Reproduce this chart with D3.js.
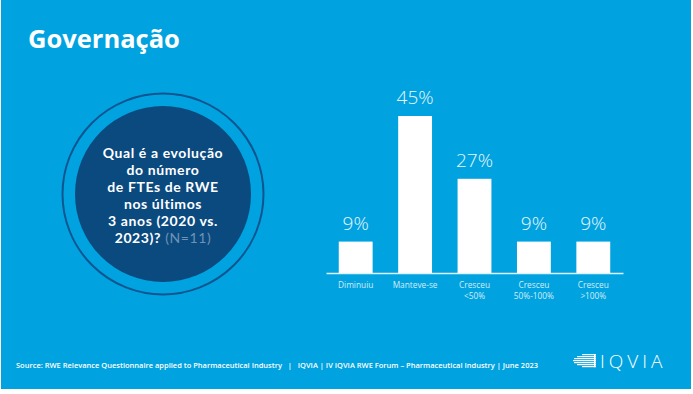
<!DOCTYPE html>
<html>
<head>
<meta charset="utf-8">
<script src="https://cdn.jsdelivr.net/npm/d3@7"></script>
<style>
  html, body { margin: 0; padding: 0; background: #fff; }
  svg { display: block; font-family: "Open Sans", sans-serif; }
</style>
</head>
<body>
<svg id="chart" width="693" height="394"></svg>
<script>
// Data
var categories = ["Diminuiu", "Manteve-se", "Cresceu\n<50%", "Cresceu\n50%-100%", "Cresceu\n>100%"];
var values = [9, 45, 27, 9, 9];
var questionLines = ["Qual é a evolução", "do número", "de FTEs de RWE", "nos últimos", "3 anos (2020 vs.", "2023)?"];
var sampleNote = "(N=11)";
var titleText = "Governação";
var sourceText = "Source: RWE Relevance Questionnaire applied to Pharmaceutical Industry   |   IQVIA | IV IQVIA RWE Forum \u2013 Pharmaceutical Industry | June 2023";

var svg = d3.select("#chart");

//Background panel
svg.append("rect")
	.attr("x", 1).attr("y", 0)
	.attr("width", 690).attr("height", 389)
	.attr("fill", "#00a3e0");

//Title
svg.append("text")
	.attr("x", 28).attr("y", 48)
	.attr("fill", "#fff")
	.attr("font-size", 25.5)
	.attr("font-weight", 700)
	.text(titleText);

//Question circle
var cx = 163, cy = 194;
svg.append("circle")
	.attr("cx", cx).attr("cy", cy).attr("r", 100.5)
	.attr("fill", "none")
	.attr("stroke", "#0d5590")
	.attr("stroke-width", 2);
svg.append("circle")
	.attr("cx", cx).attr("cy", cy).attr("r", 88)
	.attr("fill", "#0b4a7f");

//Question lines (Lato keeps the line boxes tight at this spacing)
var q = svg.append("g")
	.attr("font-family", "Lato, sans-serif")
	.attr("font-size", 14)
	.attr("font-weight", 700)
	.attr("letter-spacing", 0.6)
	.attr("fill", "#fff");
questionLines.forEach(function(line, i) {
	var t = q.append("text")
		.attr("x", cx)
		.attr("y", 158 + i * 16.9)
		.attr("text-anchor", "middle");
	t.append("tspan").text(line);
	if (i == questionLines.length - 1) {
		t.append("tspan")
			.attr("fill", "#6f93b5")
			.attr("font-weight", 400)
			.text(" " + sampleNote);
	}
});

//Bar chart
var x = d3.scaleBand()
	.domain(categories)
	.range([326, 623])
	.paddingInner(0.43)
	.paddingOuter(0.215);

var y = d3.scaleLinear()
	.domain([0, 45])
	.range([273, 116]);

var g = svg.append("g");

g.selectAll(".bar").data(values).enter().append("rect")
	.attr("class", "bar")
	.attr("x", (d, i)=>x(categories[i]))
	.attr("y", d=>y(d))
	.attr("width", x.bandwidth())
	.attr("height", d=>y(0) - y(d))
	.attr("fill", "#fff");

g.selectAll(".valueLabel").data(values).enter().append("text")
	.attr("class", "valueLabel")
	.attr("x", (d, i)=>x(categories[i]) + x.bandwidth() / 2)
	.attr("y", d=>y(d) - 12)
	.attr("text-anchor", "middle")
	.attr("fill", "#eaf6fc")
	.attr("font-size", 19)
	.attr("font-weight", 300)
	.text(d=>d + "%");

//Axis
var axis = g.append("g")
	.attr("transform", "translate(0," + y(0) + ")")
	.call(d3.axisBottom(x).tickSize(0).tickFormat(""));
axis.select(".domain")
	.attr("stroke", "#dff1fb")
	.attr("stroke-width", 1.5);

//Category labels, one text per line
var catLines = [];
categories.forEach(function(c) {
	c.split("\n").forEach(function(part, j) {
		catLines.push({cat: c, text: part, line: j});
	});
});
g.selectAll(".catLabel").data(catLines).enter().append("text")
	.attr("class", "catLabel")
	.attr("x", d=>x(d.cat) + x.bandwidth() / 2)
	.attr("y", d=>287.5 + d.line * 11.4)
	.attr("text-anchor", "middle")
	.attr("fill", "#d4ecf9")
	.attr("font-size", 8.3)
	.text(d=>d.text);

//Footer
svg.append("text")
	.attr("x", 16).attr("y", 368)
	.attr("fill", "#fff")
	.attr("font-size", 6.6)
	.attr("font-weight", 600)
	.attr("textLength", 522)
	.attr("lengthAdjust", "spacingAndGlyphs")
	.style("white-space", "pre")
	.text(sourceText);

//IQVIA logo
var logoLines = [14, 19, 22, 23, 22, 19, 14];
var logo = svg.append("g");
logoLines.forEach(function(w, i) {
	logo.append("rect")
		.attr("x", 596 - w)
		.attr("y", 354 + i * 2)
		.attr("width", w)
		.attr("height", 1.2)
		.attr("fill", "#fff");
});
logo.append("rect")
	.attr("x", 594).attr("y", 354)
	.attr("width", 1.6).attr("height", 13.2)
	.attr("fill", "#fff");
svg.append("text")
	.attr("x", 600).attr("y", 367.5)
	.attr("fill", "#fff")
	.attr("font-size", 19)
	.attr("font-weight", 300)
	.attr("letter-spacing", 4)
	.text("IQVIA");
</script>
</body>
</html>
